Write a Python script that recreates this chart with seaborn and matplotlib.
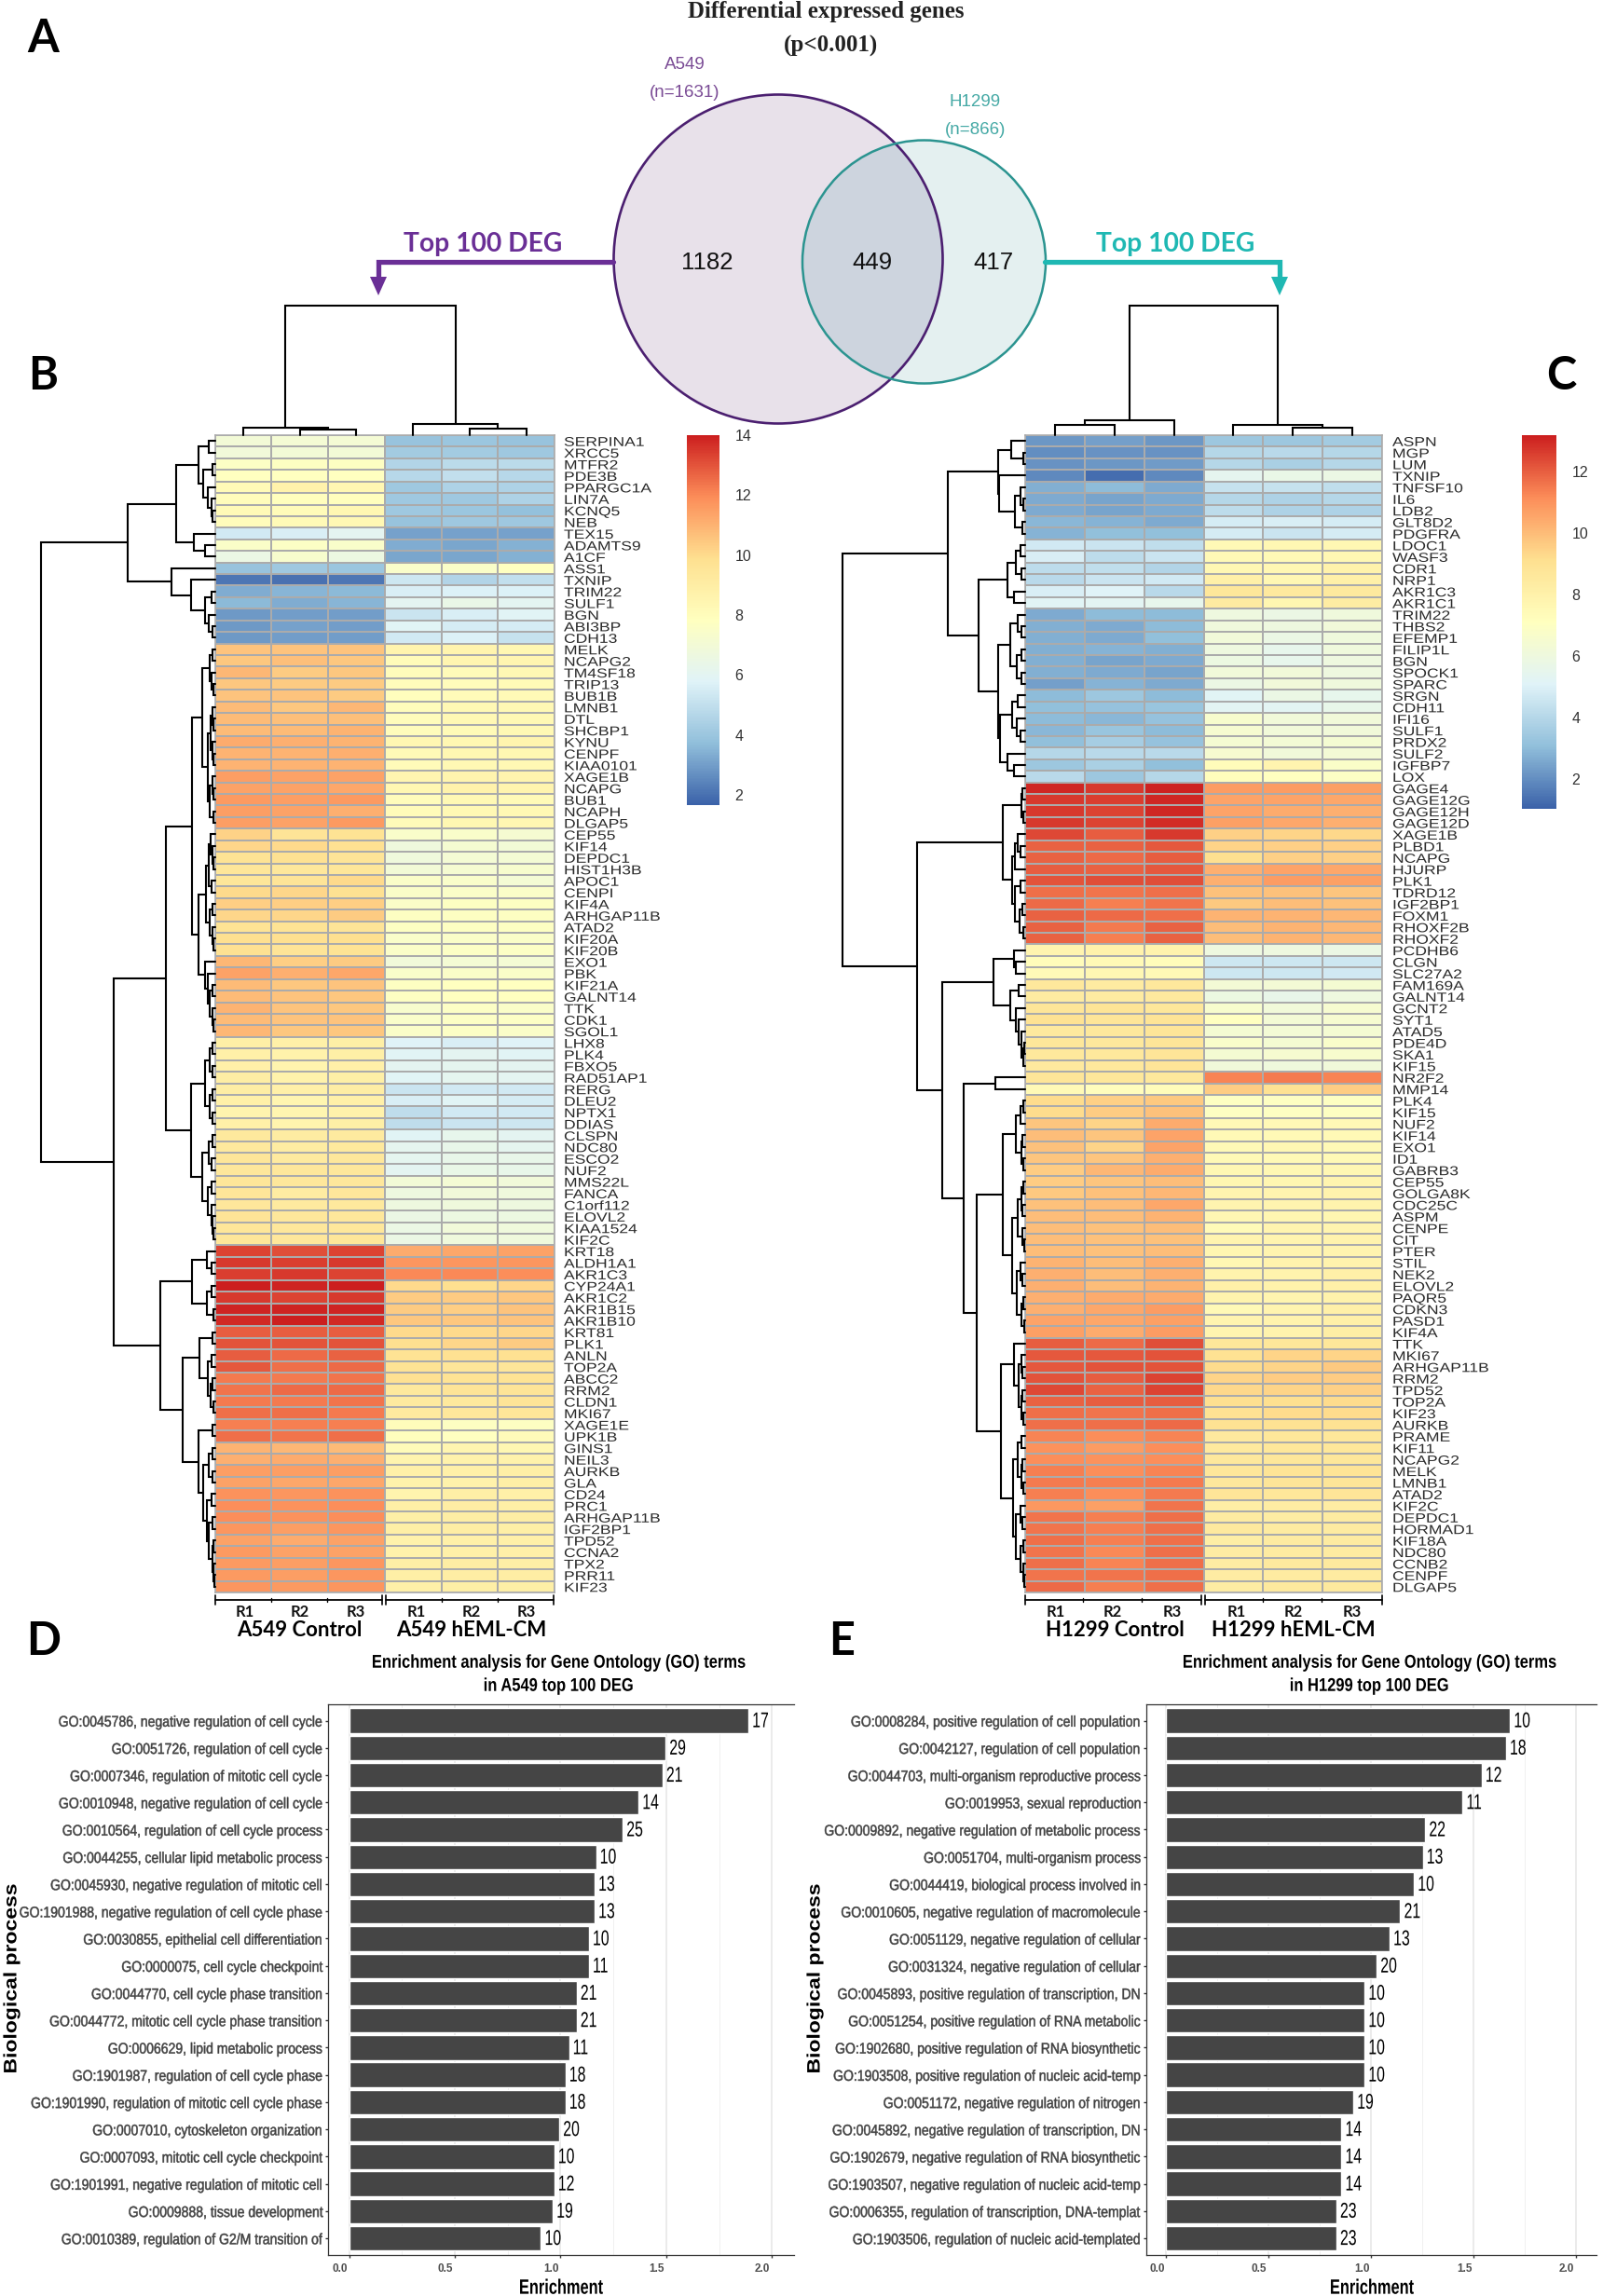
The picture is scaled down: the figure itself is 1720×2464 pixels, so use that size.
import matplotlib
matplotlib.use("Agg")
import matplotlib.pyplot as plt
import seaborn as sns
import pandas as pd
from matplotlib.colors import LinearSegmentedColormap
from matplotlib.patches import Circle
from matplotlib.patheffects import AbstractPathEffect
from matplotlib.transforms import Affine2D, ScaledTranslation

# Venn counts
VENN_COUNTS = [1182, 449, 417]

# Panel B genes and expression, columns are control R1-R3 then hEML-CM R1-R3
A549_GENES = [
    "SERPINA1", "XRCC5", "MTFR2", "PDE3B", "PPARGC1A", "LIN7A", "KCNQ5", "NEB", "TEX15", "ADAMTS9",
    "A1CF", "ASS1", "TXNIP", "TRIM22", "SULF1", "BGN", "ABI3BP", "CDH13", "MELK", "NCAPG2",
    "TM4SF18", "TRIP13", "BUB1B", "LMNB1", "DTL", "SHCBP1", "KYNU", "CENPF", "KIAA0101", "XAGE1B",
    "NCAPG", "BUB1", "NCAPH", "DLGAP5", "CEP55", "KIF14", "DEPDC1", "HIST1H3B", "APOC1", "CENPI",
    "KIF4A", "ARHGAP11B", "ATAD2", "KIF20A", "KIF20B", "EXO1", "PBK", "KIF21A", "GALNT14", "TTK",
    "CDK1", "SGOL1", "LHX8", "PLK4", "FBXO5", "RAD51AP1", "RERG", "DLEU2", "NPTX1", "DDIAS",
    "CLSPN", "NDC80", "ESCO2", "NUF2", "MMS22L", "FANCA", "C1orf112", "ELOVL2", "KIAA1524", "KIF2C",
    "KRT18", "ALDH1A1", "AKR1C3", "CYP24A1", "AKR1C2", "AKR1B15", "AKR1B10", "KRT81", "PLK1", "ANLN",
    "TOP2A", "ABCC2", "RRM2", "CLDN1", "MKI67", "XAGE1E", "UPK1B", "GINS1", "NEIL3", "AURKB",
    "GLA", "CD24", "PRC1", "ARHGAP11B", "IGF2BP1", "TPD52", "CCNA2", "TPX2", "PRR11", "KIF23",
]
A549_VALUES = [
    [7.0, 7.1, 7.1, 3.9, 4.0, 3.9], [6.9, 7.0, 7.0, 4.2, 4.2, 4.1], [7.6, 7.7, 7.7, 4.6, 4.8, 4.8],
    [7.8, 7.8, 7.8, 4.7, 5.0, 4.7], [8.2, 8.7, 8.4, 4.1, 4.5, 4.5], [8.0, 7.9, 7.9, 4.1, 4.1, 4.5],
    [8.2, 8.1, 8.4, 4.1, 4.0, 3.8], [8.0, 8.2, 8.3, 3.9, 4.1, 4.1], [5.4, 5.6, 6.0, 3.1, 3.1, 3.1],
    [7.5, 7.6, 7.4, 3.3, 3.2, 3.4], [6.5, 7.3, 6.6, 3.2, 3.2, 3.4], [3.9, 4.1, 4.0, 7.4, 7.5, 7.8],
    [2.1, 2.0, 2.1, 5.3, 4.6, 5.0], [3.3, 3.5, 3.6, 5.6, 5.7, 5.7], [3.6, 3.3, 3.5, 6.0, 6.4, 6.0],
    [2.9, 3.0, 3.0, 5.2, 5.6, 5.9], [2.9, 3.1, 3.0, 5.9, 5.5, 5.5], [2.9, 3.0, 3.0, 5.4, 5.7, 5.1],
    [10.6, 10.6, 10.6, 8.6, 8.6, 8.4], [10.5, 10.7, 10.5, 8.1, 8.5, 8.5], [10.9, 10.4, 10.5, 8.0, 8.1, 8.3],
    [10.5, 10.4, 10.4, 8.0, 8.0, 8.2], [10.6, 10.6, 10.4, 7.9, 8.1, 8.2], [10.8, 10.5, 10.9, 8.0, 8.3, 8.3],
    [10.8, 10.7, 10.7, 8.0, 8.3, 8.3], [10.8, 10.8, 11.0, 8.0, 8.2, 8.3], [11.2, 11.1, 11.0, 8.4, 8.4, 8.6],
    [11.0, 11.0, 11.1, 8.2, 8.4, 8.4], [11.0, 11.0, 11.0, 8.1, 8.3, 8.3], [11.5, 11.4, 11.4, 8.5, 8.6, 8.6],
    [11.4, 11.4, 11.3, 8.4, 8.7, 8.6], [11.6, 11.5, 11.6, 8.0, 8.3, 8.2], [11.5, 11.4, 11.1, 8.1, 8.3, 8.3],
    [11.5, 11.4, 11.6, 8.1, 8.4, 8.4], [10.2, 9.6, 9.7, 7.4, 7.4, 7.2], [10.1, 10.0, 9.8, 6.8, 7.2, 7.0],
    [9.7, 9.8, 9.6, 6.8, 7.1, 7.1], [9.5, 9.4, 9.5, 7.0, 7.2, 7.3], [9.5, 9.6, 10.0, 7.5, 7.4, 7.1],
    [10.0, 10.1, 9.8, 7.5, 7.5, 7.5], [10.3, 10.3, 10.3, 7.5, 7.7, 7.7], [10.1, 10.1, 10.4, 7.7, 7.7, 7.7],
    [9.7, 9.7, 9.6, 7.7, 7.7, 7.7], [9.9, 9.9, 9.9, 7.4, 7.5, 7.5], [9.8, 9.6, 9.7, 7.5, 7.6, 7.6],
    [10.9, 10.3, 10.4, 6.9, 7.1, 7.1], [11.4, 11.1, 11.3, 7.4, 7.5, 7.5], [10.8, 10.5, 10.6, 7.7, 7.8, 7.8],
    [10.8, 10.6, 10.5, 7.7, 7.8, 7.8], [11.0, 10.6, 10.5, 7.3, 7.6, 7.5], [10.8, 10.6, 10.6, 7.4, 7.6, 7.6],
    [10.9, 10.5, 10.5, 7.5, 7.6, 7.5], [8.9, 8.8, 8.9, 5.8, 5.6, 5.8], [8.8, 8.7, 8.9, 5.9, 6.0, 5.9],
    [8.8, 8.6, 8.8, 6.0, 6.1, 6.0], [9.0, 8.7, 8.9, 5.9, 6.1, 6.0], [9.0, 8.8, 9.0, 5.2, 5.4, 5.4],
    [8.8, 8.5, 8.8, 5.6, 5.9, 5.5], [8.6, 8.5, 8.7, 4.9, 5.4, 5.4], [8.8, 8.6, 8.9, 4.9, 5.2, 5.3],
    [9.3, 9.1, 9.2, 5.9, 6.2, 6.0], [9.3, 9.1, 9.3, 6.1, 6.3, 6.1], [9.5, 9.2, 9.4, 6.1, 6.3, 6.3],
    [9.4, 9.4, 9.4, 6.0, 6.4, 6.3], [9.5, 9.4, 9.4, 7.0, 7.1, 6.9], [9.5, 9.1, 9.4, 6.7, 6.9, 6.8],
    [9.4, 9.2, 9.3, 6.7, 6.8, 6.7], [9.6, 9.4, 9.4, 6.5, 6.6, 6.6], [9.5, 9.4, 9.4, 6.5, 6.9, 6.8],
    [9.5, 9.4, 9.5, 6.5, 6.8, 6.8], [13.3, 13.1, 13.3, 11.2, 11.3, 11.4], [13.5, 13.4, 13.5, 11.7, 11.7, 11.7],
    [13.4, 13.5, 13.3, 12.0, 12.0, 11.9], [14.0, 13.9, 14.0, 10.0, 9.9, 10.1], [13.5, 13.3, 13.5, 10.4, 10.4, 10.5],
    [13.9, 13.9, 13.9, 10.4, 10.3, 10.6], [13.8, 14.0, 13.8, 10.5, 10.5, 10.6], [12.8, 12.8, 12.8, 10.0, 10.0, 10.1],
    [13.0, 13.0, 13.0, 9.9, 10.1, 10.4], [12.8, 12.6, 12.7, 9.7, 9.8, 9.8], [12.9, 12.5, 12.6, 9.7, 9.5, 9.5],
    [12.3, 12.3, 12.4, 9.8, 9.7, 9.7], [12.4, 12.6, 12.6, 9.3, 9.6, 9.6], [12.3, 12.3, 12.4, 9.2, 9.3, 9.6],
    [12.5, 12.5, 12.3, 9.2, 9.4, 9.5], [12.2, 12.2, 12.2, 8.0, 7.7, 7.7], [12.5, 12.4, 12.5, 7.9, 7.8, 8.1],
    [11.0, 10.9, 10.8, 8.1, 8.5, 8.4], [11.1, 11.2, 11.1, 8.6, 8.7, 8.7], [11.5, 11.5, 11.5, 8.8, 8.8, 8.9],
    [11.4, 11.3, 11.3, 8.7, 8.7, 8.9], [11.8, 11.7, 11.8, 8.6, 8.9, 8.8], [11.9, 11.8, 11.9, 8.9, 9.0, 8.9],
    [11.9, 11.8, 11.9, 8.9, 9.0, 9.0], [11.7, 11.5, 11.7, 8.9, 9.0, 8.9], [11.4, 11.2, 11.4, 8.7, 8.8, 8.8],
    [11.6, 11.4, 11.4, 8.7, 8.8, 8.8], [11.6, 11.5, 11.7, 8.9, 9.0, 8.9], [11.6, 11.5, 11.7, 8.9, 9.0, 9.0],
    [11.7, 11.6, 11.7, 8.8, 8.9, 8.9],
]

# Panel C genes and expression
H1299_GENES = [
    "ASPN", "MGP", "LUM", "TXNIP", "TNFSF10", "IL6", "LDB2", "GLT8D2", "PDGFRA", "LDOC1",
    "WASF3", "CDR1", "NRP1", "AKR1C3", "AKR1C1", "TRIM22", "THBS2", "EFEMP1", "FILIP1L", "BGN",
    "SPOCK1", "SPARC", "SRGN", "CDH11", "IFI16", "SULF1", "PRDX2", "SULF2", "IGFBP7", "LOX",
    "GAGE4", "GAGE12G", "GAGE12H", "GAGE12D", "XAGE1B", "PLBD1", "NCAPG", "HJURP", "PLK1", "TDRD12",
    "IGF2BP1", "FOXM1", "RHOXF2B", "RHOXF2", "PCDHB6", "CLGN", "SLC27A2", "FAM169A", "GALNT14", "GCNT2",
    "SYT1", "ATAD5", "PDE4D", "SKA1", "KIF15", "NR2F2", "MMP14", "PLK4", "KIF15", "NUF2",
    "KIF14", "EXO1", "ID1", "GABRB3", "CEP55", "GOLGA8K", "CDC25C", "ASPM", "CENPE", "CIT",
    "PTER", "STIL", "NEK2", "ELOVL2", "PAQR5", "CDKN3", "PASD1", "KIF4A", "TTK", "MKI67",
    "ARHGAP11B", "RRM2", "TPD52", "TOP2A", "KIF23", "AURKB", "PRAME", "KIF11", "NCAPG2", "MELK",
    "LMNB1", "ATAD2", "KIF2C", "DEPDC1", "HORMAD1", "KIF18A", "NDC80", "CCNB2", "CENPF", "DLGAP5",
]
H1299_VALUES = [
    [2.2, 2.4, 2.2, 3.4, 3.4, 3.5], [2.0, 2.1, 2.1, 4.0, 4.1, 4.0], [2.1, 2.2, 2.3, 4.0, 3.7, 4.0],
    [1.9, 1.3, 1.9, 5.4, 5.7, 5.8], [2.7, 3.0, 2.6, 4.4, 4.4, 4.3], [2.6, 2.5, 2.6, 4.0, 3.8, 4.0],
    [2.6, 2.5, 2.6, 4.2, 3.8, 3.8], [2.9, 2.8, 2.6, 4.8, 4.9, 4.8], [2.8, 3.1, 3.1, 4.8, 4.5, 4.8],
    [4.7, 4.5, 4.3, 7.5, 7.6, 7.6], [4.9, 4.2, 4.5, 7.5, 7.5, 7.6], [4.2, 4.3, 3.9, 7.6, 7.6, 8.0],
    [4.1, 4.5, 4.7, 8.1, 7.6, 8.1], [4.9, 5.1, 4.1, 8.7, 8.5, 8.5], [5.2, 5.3, 5.5, 8.4, 7.7, 8.3],
    [2.6, 3.0, 3.0, 6.0, 5.8, 6.1], [2.7, 2.6, 3.0, 6.1, 6.0, 6.2], [2.7, 2.6, 3.1, 6.2, 5.8, 6.1],
    [2.7, 2.8, 2.7, 6.0, 5.5, 6.1], [2.7, 2.5, 2.6, 5.9, 5.5, 6.0], [2.7, 2.6, 2.5, 6.2, 6.2, 6.0],
    [2.4, 2.8, 2.6, 5.8, 6.2, 6.1], [3.0, 3.4, 3.0, 5.2, 5.8, 5.5], [3.1, 3.2, 3.3, 5.3, 5.3, 5.6],
    [3.0, 2.9, 3.2, 6.6, 6.2, 6.2], [2.9, 3.3, 3.0, 6.5, 6.2, 6.2], [3.1, 3.6, 3.2, 6.4, 6.3, 6.4],
    [4.0, 4.1, 4.1, 6.5, 6.2, 6.3], [3.4, 3.7, 3.1, 7.3, 7.8, 6.8], [4.1, 3.4, 4.0, 7.2, 7.1, 6.9],
    [13.0, 12.7, 13.1, 10.8, 10.8, 10.7], [12.7, 12.6, 13.0, 10.6, 10.6, 10.5], [12.7, 12.5, 13.0, 10.6, 10.4, 10.3],
    [12.7, 12.5, 12.9, 10.7, 10.5, 10.3], [12.4, 12.0, 12.7, 9.5, 9.4, 9.3], [11.9, 11.9, 12.1, 9.4, 9.5, 9.5],
    [11.9, 11.8, 12.0, 9.1, 9.5, 9.5], [12.0, 11.9, 12.1, 10.3, 10.6, 10.5], [12.2, 12.3, 12.3, 10.3, 10.8, 10.7],
    [11.7, 11.6, 11.7, 9.9, 9.9, 9.8], [11.8, 11.4, 11.6, 9.7, 10.0, 9.9], [11.9, 11.8, 11.7, 10.2, 10.2, 10.1],
    [11.9, 11.5, 11.9, 10.0, 10.2, 10.1], [11.9, 11.4, 11.9, 10.0, 10.2, 10.1], [7.8, 8.0, 7.9, 6.0, 6.0, 5.8],
    [7.3, 7.5, 7.3, 4.6, 4.6, 4.6], [7.4, 7.6, 7.5, 4.6, 4.6, 4.7], [8.6, 8.4, 8.6, 6.3, 6.3, 6.4],
    [8.4, 8.4, 8.5, 5.9, 5.6, 6.0], [8.8, 8.9, 8.7, 6.6, 6.2, 6.5], [9.0, 8.8, 8.9, 7.1, 6.3, 6.5],
    [8.5, 8.6, 8.8, 6.4, 6.3, 6.4], [8.7, 8.6, 8.8, 6.7, 6.4, 6.7], [8.6, 8.6, 8.8, 6.4, 6.5, 6.6],
    [8.5, 8.6, 8.8, 6.2, 6.1, 6.2], [8.8, 8.7, 8.6, 11.3, 11.5, 11.3], [7.5, 7.2, 7.3, 9.6, 9.0, 9.6],
    [9.2, 9.5, 9.7, 7.0, 7.0, 7.0], [9.2, 9.6, 9.9, 7.0, 7.0, 7.0], [9.8, 9.4, 10.4, 7.5, 7.5, 7.5],
    [10.0, 9.8, 10.6, 7.5, 7.5, 7.5], [9.9, 9.4, 10.6, 7.5, 7.6, 7.5], [9.8, 9.8, 10.3, 7.5, 7.5, 7.5],
    [9.6, 10.1, 10.4, 7.6, 7.6, 7.6], [9.6, 9.8, 10.0, 7.7, 7.7, 7.8], [9.7, 9.9, 10.1, 7.8, 7.8, 7.9],
    [9.9, 10.0, 10.5, 7.8, 7.8, 7.9], [10.0, 10.0, 10.2, 7.6, 7.7, 7.7], [10.0, 9.9, 10.0, 7.4, 7.8, 7.8],
    [10.0, 9.9, 9.9, 7.8, 7.8, 7.9], [10.0, 9.9, 10.0, 7.7, 7.8, 7.8], [10.2, 10.0, 10.3, 7.6, 7.9, 7.9],
    [10.3, 10.0, 10.3, 7.9, 7.9, 8.1], [10.3, 10.0, 10.2, 8.1, 8.0, 8.1], [10.3, 10.4, 10.4, 7.9, 7.8, 8.0],
    [10.3, 10.5, 10.8, 7.5, 7.8, 8.1], [10.6, 10.5, 10.7, 7.8, 7.9, 8.1], [10.7, 10.4, 10.8, 7.8, 7.9, 8.2],
    [12.0, 11.8, 12.3, 8.7, 8.7, 8.7], [12.1, 12.1, 12.2, 9.0, 9.4, 9.4], [12.1, 12.2, 12.2, 9.2, 9.4, 9.7],
    [12.2, 12.0, 12.5, 9.4, 9.6, 9.6], [12.4, 11.9, 12.5, 9.3, 9.4, 9.5], [11.9, 12.0, 12.0, 9.1, 9.1, 9.2],
    [11.7, 11.6, 11.7, 9.0, 9.2, 9.2], [11.7, 11.7, 11.8, 9.0, 9.0, 9.0], [11.3, 11.1, 11.3, 8.5, 8.7, 8.7],
    [11.0, 10.8, 11.1, 8.5, 8.7, 8.7], [11.1, 11.0, 11.1, 8.6, 8.7, 8.7], [11.4, 11.1, 11.3, 8.7, 8.9, 8.9],
    [11.5, 11.4, 11.5, 8.6, 8.8, 8.8], [11.4, 11.1, 11.5, 8.8, 8.7, 8.8], [10.9, 10.7, 11.6, 8.2, 8.3, 8.3],
    [11.6, 11.4, 11.7, 8.4, 8.3, 8.4], [11.6, 11.4, 11.7, 8.5, 8.4, 8.4], [11.7, 11.4, 11.7, 8.2, 8.4, 8.4],
    [11.6, 11.2, 11.7, 8.3, 8.4, 8.4], [11.7, 11.3, 11.7, 8.3, 8.5, 8.5], [11.6, 11.6, 11.7, 8.3, 8.4, 8.4],
    [11.8, 11.4, 11.7, 8.3, 8.5, 8.5],
]

# Panel D and E enrichment bars
A549_TERMS = [
    "GO:0045786, negative regulation of cell cycle", "GO:0051726, regulation of cell cycle",
    "GO:0007346, regulation of mitotic cell cycle", "GO:0010948, negative regulation of cell cycle",
    "GO:0010564, regulation of cell cycle process", "GO:0044255, cellular lipid metabolic process",
    "GO:0045930, negative regulation of mitotic cell", "GO:1901988, negative regulation of cell cycle phase",
    "GO:0030855, epithelial cell differentiation", "GO:0000075, cell cycle checkpoint",
    "GO:0044770, cell cycle phase transition", "GO:0044772, mitotic cell cycle phase transition",
    "GO:0006629, lipid metabolic process", "GO:1901987, regulation of cell cycle phase",
    "GO:1901990, regulation of mitotic cell cycle phase", "GO:0007010, cytoskeleton organization",
    "GO:0007093, mitotic cell cycle checkpoint", "GO:1901991, negative regulation of mitotic cell",
    "GO:0009888, tissue development", "GO:0010389, regulation of G2/M transition of",
]
A549_ENRICH = [1.889, 1.497, 1.482, 1.369, 1.294, 1.168, 1.161, 1.161, 1.134, 1.134,
               1.076, 1.076, 1.04, 1.023, 1.023, 0.994, 0.97, 0.97, 0.963, 0.907]
A549_COUNTS = [17, 29, 21, 14, 25, 10, 13, 13, 10, 11, 21, 21, 11, 18, 18, 20, 10, 12, 19, 10]

H1299_TERMS = [
    "GO:0008284, positive regulation of cell population", "GO:0042127, regulation of cell population",
    "GO:0044703, multi-organism reproductive process", "GO:0019953, sexual reproduction",
    "GO:0009892, negative regulation of metabolic process", "GO:0051704, multi-organism process",
    "GO:0044419, biological process involved in", "GO:0010605, negative regulation of macromolecule",
    "GO:0051129, negative regulation of cellular", "GO:0031324, negative regulation of cellular",
    "GO:0045893, positive regulation of transcription, DN", "GO:0051254, positive regulation of RNA metabolic",
    "GO:1902680, positive regulation of RNA biosynthetic", "GO:1903508, positive regulation of nucleic acid-temp",
    "GO:0051172, negative regulation of nitrogen", "GO:0045892, negative regulation of transcription, DN",
    "GO:1902679, negative regulation of RNA biosynthetic", "GO:1903507, negative regulation of nucleic acid-temp",
    "GO:0006355, regulation of transcription, DNA-templat", "GO:1903506, regulation of nucleic acid-templated",
]
H1299_ENRICH = [1.678, 1.658, 1.539, 1.446, 1.264, 1.252, 1.209, 1.142, 1.09, 1.027,
                0.968, 0.968, 0.968, 0.968, 0.913, 0.855, 0.855, 0.855, 0.83, 0.83]
H1299_COUNTS = [10, 18, 12, 11, 22, 13, 10, 21, 13, 20, 10, 10, 10, 10, 19, 14, 14, 14, 23, 23]

# Row dendrograms as nested merges (distance, upper, lower), L is a single gene
L = 0
a549_r0_7 = (17.8, (6.6, L, L), (12.7, (2.5, L, L), (7.6, L, (4, L, (2.5, L, L)))))
a549_r0_10 = (41.3, a549_r0_7, (23, L, (10.7, L, L)))
a549_r11_17 = (46.4, L, (25.5, L, (10.7, (4, L, L), (6.6, L, (2.5, L, L)))))
a549_r18_33 = (14, (6, (3, L, L), (3.5, L, (2, L, L))),
               (8, (4.5, (3, L, (1.5, L, L)), (3, L, (2, L, L))), (6, (3, L, (1.5, L, L)), (2, L, L))))
a549_r34_44 = (10, (7, (5, L, (3, L, (2, L, L))), (3.5, L, L)), (6, (3, L, L), (3, L, (2, L, L))))
a549_r45_51 = (10.5, L, (8, L, (6, (3, L, L), (3, L, (1.5, L, L)))))
a549_r52_69 = (25.5, (10.7, (6, (3, L, L), (2.5, L, L)), (6, (3, L, L), (2.5, L, L))),
               (13.8, (7, (3, L, L), (3.5, L, L)), (8, (4, L, L), (4, L, (3, L, (2, L, L))))))
a549_r18_69 = (52.5, (25, a549_r18_33, (18, a549_r34_44, a549_r45_51)), a549_r52_69)
a549_r70_76 = (24.5, (9, L, (4, L, L)), (9, (4, L, L), (2, L, L)))
a549_r77_84 = (17, (3, L, L), (7.6, (3.5, L, L), (5, (2.5, L, L), (2, L, L))))
a549_r93_99 = (7, (3, L, L), (3, (2, L, L), (1.5, L, (1, L, L))))
a549_r85_99 = (18, (3, L, L), (13, (6.5, (3, L, L), (2.5, L, L)), (9, (4, L, L), a549_r93_99)))
a549_r70_99 = (58.7, a549_r70_76, (34.7, a549_r77_84, a549_r85_99))
A549_ROW_TREE = (186.7, (93.4, a549_r0_10, a549_r11_17), (108.7, a549_r18_69, a549_r70_99))

h1299_r0_8 = (29, (15, L, (2, L, L)), (28, L, (11, (4.6, L, (2.5, L, L)), (3.5, L, L))))
h1299_r9_14 = (19, (10, (5, L, L), (4, L, L)), (12, L, L))
h1299_r15_21 = (16, (8, L, (4, L, L)), (9, (4, L, L), (4, L, L)))
h1299_r22_29 = (27.5, (14, (8, L, L), (9, L, (5, L, L))), (19, L, (12, L, L)))
h1299_r0_29 = (82.7, h1299_r0_8, (50.5, h1299_r9_14, (29, h1299_r15_21, h1299_r22_29)))
h1299_r30_43 = (24, (4, (3, L, L), (2.5, L, L)),
                (13.8, (11.5, (8, L, (5, L, L)), L), (11, (5, L, L), (6, (3, L, L), (2, L, L)))))
h1299_r44_54 = (34, (12, L, (10, L, L)), (16, (7, L, L), (10, L, (7, L, (4, L, (2.5, (1.5, L, L), L))))))
h1299_r64_77 = (14, (8, (4, (2.5, L, L), (3, L, L)), (3, L, (1.5, L, L))),
                (9, (5, L, (3, L, L)), (4, (2, L, L), (1.5, L, L))))
h1299_r57_77 = (24, (10, (5, (2.5, L, L), L), (4, (3, L, L), (2, L, L))), h1299_r64_77)
h1299_r78_85 = (12, L, (7, (4, L, (3, L, L)), (4, (3, L, L), (2, L, L))))
h1299_r86_99 = (13, (8.5, (4, L, L), (4.5, (3, L, L), (2, L, L))),
                (10, (5, L, (3, L, L)), (5, (2.5, L, L), (2.5, L, (1.5, L, L)))))
h1299_r55_99 = (66, (31.6, L, L), (52, h1299_r57_77, (26.5, h1299_r78_85, h1299_r86_99)))
H1299_ROW_TREE = (196, h1299_r0_29, (116, h1299_r30_43, (89, h1299_r44_54, h1299_r55_99)))

# Column dendrograms
A549_COL_TREE = (139, (8, L, (6, L, L)), (12, L, (7, L, L)))
H1299_COL_TREE = (139, (16, (11, L, L), L), (11, L, (8, L, L)))

WIDTH, HEIGHT = 1720, 2464
sns.set_theme(style="white")

ARIAL = "Liberation Sans"
CALIBRI = "Lato"

fig = plt.figure(figsize=(WIDTH / 100, HEIGHT / 100), dpi=100, facecolor="white")


class Warp(AbstractPathEffect):
    # the original panels were stretched when pasted, so text is squashed or pulled to match
    def __init__(self, sx=1.0, sy=1.0, stroke=0.0):
        self.sx, self.sy, self.stroke = sx, sy, stroke

    def draw_path(self, renderer, gc, tpath, affine, rgbFace=None):
        warp = Affine2D().translate(0, -36).scale(self.sx, self.sy).translate(0, 36)
        gc0 = renderer.new_gc()
        gc0.copy_properties(gc)
        if self.stroke:
            gc0.set_linewidth(self.stroke)
            gc0.set_foreground(rgbFace)
        renderer.draw_path(gc0, tpath, warp + affine, rgbFace)
        gc0.restore()


def px_axes(x0, y0, x1, y1, **kw):
    return fig.add_axes([x0 / WIDTH, 1 - y1 / HEIGHT, (x1 - x0) / WIDTH, (y1 - y0) / HEIGHT], **kw)


over = fig.add_axes([0, 0, 1, 1], zorder=5)
over.set_xlim(0, WIDTH)
over.set_ylim(HEIGHT, 0)
over.axis("off")

heat_cmap = LinearSegmentedColormap.from_list(
    "pheat", ["#3B62A9", "#91BFDB", "#E0F3F8", "#FFFFBF", "#FEE090", "#FC8D59", "#CC1F1F"])


def draw_row_tree(node, row, right, top, step):
    # returns (y of node, x of node, next row)
    if node == L:
        return top + (row + 0.5) * step, right, row + 1
    dist, upper, lower = node
    y0, x0, row = draw_row_tree(upper, row, right, top, step)
    y1, x1, row = draw_row_tree(lower, row, right, top, step)
    x = right - dist
    over.plot([x0, x, x, x1], [y0, y0, y1, y1], color="black", lw=1.5, solid_joinstyle="miter")
    return (y0 + y1) / 2, x, row


def draw_col_tree(node, col, left, bottom, step):
    if node == L:
        return left + (col + 0.5) * step, bottom, col + 1
    dist, first, second = node
    x0, y0, col = draw_col_tree(first, col, left, bottom, step)
    x1, y1, col = draw_col_tree(second, col, left, bottom, step)
    y = bottom - dist
    over.plot([x0, x0, x1, x1], [y0, y, y, y1], color="black", lw=1.5, solid_joinstyle="miter")
    return (x0 + x1) / 2, y, col


def expression_panel(genes, values, box, cbar_box, vmin, vmax, ticks, row_tree, col_tree, label_x):
    x0, y0, x1, y1 = box
    ax = px_axes(x0, y0, x1, y1)
    cax = px_axes(*cbar_box)
    frame = pd.DataFrame(values, index=genes, columns=["c1", "c2", "c3", "t1", "t2", "t3"])
    sns.heatmap(frame, ax=ax, cmap=heat_cmap, vmin=vmin, vmax=vmax, linewidths=1.3, linecolor="#ABABAB",
                xticklabels=False, yticklabels=True, cbar_ax=cax, cbar_kws={"ticks": ticks})
    ax.yaxis.tick_right()
    ax.tick_params(axis="y", length=0, pad=(label_x - x1) * 0.72, labelrotation=0)
    for lab in ax.get_yticklabels():
        lab.set_fontfamily(ARIAL)
        lab.set_fontsize(10)
        lab.set_color("#2B2B2B")
        lab.set_path_effects([Warp(sx=1.26)])
    for spine in ax.spines.values():
        spine.set_visible(True)
        spine.set_color("#ABABAB")
        spine.set_linewidth(1.2)
    cax.tick_params(length=0, pad=12, labelsize=11.5, labelcolor="#333333")
    for lab in cax.get_yticklabels():
        lab.set_fontfamily(ARIAL)
    ax.collections[0].colorbar.outline.set_visible(False)
    # the dendrograms hang off the heatmap edges
    draw_row_tree(row_tree, 0, x0, y0, (y1 - y0) / len(genes))
    draw_col_tree(col_tree, 0, x0, y0, (x1 - x0) / 6)


expression_panel(A549_GENES, A549_VALUES, (230.5, 467, 595, 1709), (737, 467, 772, 864),
                 1.66, 14.0, [2, 4, 6, 8, 10, 12, 14], A549_ROW_TREE, A549_COL_TREE, 605)
expression_panel(H1299_GENES, H1299_VALUES, (1100, 467, 1483, 1709), (1633, 467, 1670, 868),
                 1.03, 13.18, [2, 4, 6, 8, 10, 12], H1299_ROW_TREE, H1299_COL_TREE, 1494)


def replicate_labels(spans, rep_xs, groups):
    for (a, b, mids) in spans:
        over.plot([a, b], [1717, 1717], color="black", lw=1.3)
        over.plot([a, a], [1712, 1722], color="black", lw=1.2)
        over.plot([b, b], [1712, 1722], color="black", lw=1.2)
        for m in mids:
            over.plot([m, m], [1715, 1719], color="black", lw=1.0)
    for x, rep in zip(rep_xs, ["R1", "R2", "R3"] * 2):
        over.text(x, 1730, rep, ha="center", va="center", family=CALIBRI, weight="bold", fontsize=12, color="#111111")
    for x, name in groups:
        over.text(x, 1749, name, ha="center", va="center", family=CALIBRI, weight="bold", fontsize=16, color="black")


replicate_labels([(230.5, 410, [291, 351]), (413.7, 594, [474, 534])],
                 [263, 322, 382, 447, 505.5, 565],
                 [(321, "A549 Control"), (505.5, "A549 hEML-CM")])
replicate_labels([(1100, 1289, [1162, 1225]), (1293, 1483, [1355, 1418])],
                 [1133, 1194, 1258, 1327, 1388, 1451],
                 [(1196, "H1299 Control"), (1388, "H1299 hEML-CM")])

# Venn at the top
a_center, a_r = (835, 278), 176.5
h_center, h_r = (991.5, 281), 130.5
over.add_patch(Circle(a_center, a_r, fc="#E8E1EA", ec="none"))
over.add_patch(Circle(h_center, h_r, fc="#E4F0F0", ec="none"))
overlap = Circle(h_center, h_r, fc="#CDD4DE", ec="none")
over.add_patch(overlap)
overlap.set_clip_path(Circle(a_center, a_r, transform=over.transData))
over.add_patch(Circle(a_center, a_r, fc="none", ec="#4B1F70", lw=1.9))
over.add_patch(Circle(h_center, h_r, fc="none", ec="#2B9490", lw=1.8))
for x, n in zip([759, 936, 1066], VENN_COUNTS):
    over.text(x, 282, str(n), ha="center", va="center", family=ARIAL, fontsize=18.5, color="#111111")

over.text(886, 13, "Differential expressed genes", ha="center", va="center", family="Liberation Serif",
          weight="bold", fontsize=17.9, color="#222222")
over.text(892, 49, "(p<0.001)", ha="center", va="center", family="Liberation Serif", weight="bold",
          fontsize=18, color="#222222")
over.text(735, 69, "A549", ha="center", va="center", family=ARIAL, fontsize=13.5, color="#7A4B95")
over.text(735, 99, "(n=1631)", ha="center", va="center", family=ARIAL, fontsize=13.5, color="#7A4B95")
over.text(1046, 110, "H1299", ha="center", va="center", family=ARIAL, fontsize=13.5, color="#45A9A5")
over.text(1047, 139, "(n=866)", ha="center", va="center", family=ARIAL, fontsize=13.5, color="#45A9A5")

for side_x, corner_x, text_x, col in [(658, 406, 518, "#6A2F96"), (1121, 1373, 1261, "#1FB8B3")]:
    over.plot([side_x, corner_x, corner_x], [281, 281, 298], color=col, lw=3.8, solid_joinstyle="miter")
    over.fill([corner_x - 9, corner_x + 9, corner_x], [297, 297, 317], color=col, lw=0)
    over.text(text_x, 262, "Top 100 DEG", ha="center", va="center", family=CALIBRI, weight="bold",
              fontsize=20.3, color=col)

for x, y, letter in [(46, 41, "A"), (46, 403, "B"), (1675, 403, "C"), (47, 1761, "D"), (903, 1761, "E")]:
    over.text(x, y, letter, ha="center", va="center", family=CALIBRI, weight="bold", fontsize=35, color="black")


def enrichment_panel(terms, enrich, counts, box, xlim, title_x, title, ylabel_x, xlabel_x):
    ax = px_axes(*box)
    frame = pd.DataFrame({"term": terms, "enrichment": enrich})
    ax.set_axisbelow(True)
    ax.set_xticks([0, 0.5, 1.0, 1.5, 2.0])
    ax.set_xticks([0.25, 0.75, 1.25, 1.75], minor=True)
    ax.grid(True, which="major", axis="x", color="#E6E6E6", lw=1.1)
    ax.grid(True, which="minor", axis="x", color="#F0F0F0", lw=0.7)
    ax.grid(True, which="major", axis="y", color="#E6E6E6", lw=1.8)
    sns.barplot(data=frame, x="enrichment", y="term", color="#454545", saturation=1, width=0.9, ax=ax, orient="h")
    ax.set_xlim(*xlim)
    ax.set_ylim(19.6, -0.6)
    ax.set_xlabel("")
    ax.set_ylabel("")
    bar_texts = ax.bar_label(ax.containers[0], labels=[str(c) for c in counts], padding=3, family=ARIAL, fontsize=11.4,
                             color="black")
    for txt in bar_texts:
        txt.set_path_effects([Warp(sy=1.45)])
    ax.spines["right"].set_visible(False)
    for name in ["left", "top", "bottom"]:
        ax.spines[name].set_color("#333333")
        ax.spines[name].set_linewidth(0.9)
    ax.tick_params(axis="y", which="major", left=True, length=2.5, width=1, color="#333333", pad=1.5)
    ax.tick_params(axis="x", which="major", bottom=True, length=2.5, width=1, color="#333333", pad=4)
    ax.tick_params(axis="x", which="minor", bottom=False)
    for lab in ax.get_yticklabels():
        lab.set_fontfamily(ARIAL)
        lab.set_fontsize(10.1)
        lab.set_color("#404040")
        lab.set_path_effects([Warp(sy=1.16, stroke=0.35)])
    shift = ScaledTranslation(-10 / 100, 0, fig.dpi_scale_trans)
    for lab in ax.get_xticklabels():
        lab.set_fontfamily(ARIAL)
        lab.set_fontsize(8.5)
        lab.set_fontweight("bold")
        lab.set_color("#4D4D4D")
        lab.set_transform(lab.get_transform() + shift)
    for y, line in zip([1784, 1809], title):
        over.text(title_x, y, line, ha="center", va="center", family=ARIAL, weight="bold", fontsize=11.9,
                  color="black", path_effects=[Warp(sy=1.2)])
    over.text(xlabel_x, 2455, "Enrichment", ha="center", va="center", family=ARIAL, weight="bold", fontsize=11.8,
              color="black", path_effects=[Warp(sy=1.36)])
    over.text(ylabel_x, 2139, "Biological process", ha="center", va="center", rotation=90, family=ARIAL, weight="bold",
              fontsize=14, color="black", path_effects=[Warp(sx=1.18)])


enrichment_panel(A549_TERMS, A549_ENRICH, A549_COUNTS, (352, 1829, 852, 2419.6), (-0.1, 2.105), 599,
                 ["Enrichment analysis for Gene Ontology (GO) terms", "in A549 top 100 DEG"], 13, 602)
enrichment_panel(H1299_TERMS, H1299_ENRICH, H1299_COUNTS, (1230, 1829, 1713, 2419.6), (-0.097, 2.1), 1469,
                 ["Enrichment analysis for Gene Ontology (GO) terms", "in H1299 top 100 DEG"], 875, 1472)

fig.savefig("out.png", dpi=100)
